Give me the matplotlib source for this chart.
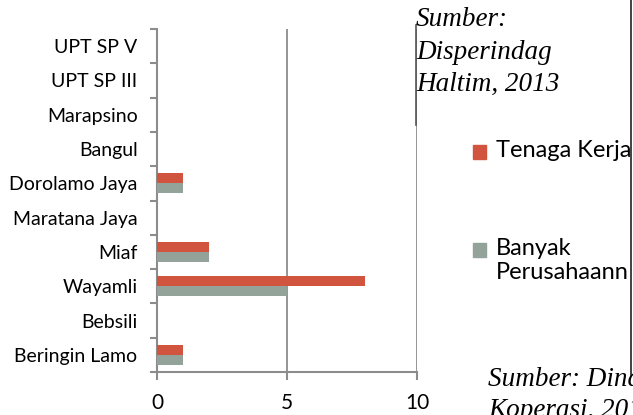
import numpy as np
import matplotlib.pyplot as plt
from matplotlib.patches import Rectangle

# data, bottom to top as drawn
categories = ["Beringin Lamo", "Bebsili", "Wayamli", "Miaf", "Maratana Jaya",
              "Dorolamo Jaya", "Bangul", "Marapsino", "UPT SP III", "UPT SP V"]
tenaga_kerja = [1, 0, 8, 2, 0, 1, 0, 0, 0, 0]
banyak_perusahaan = [1, 0, 5, 2, 0, 1, 0, 0, 0, 0]
series_names = ["Tenaga Kerja", "Banyak\nPerusahaann"]
x_ticks = [0, 5, 10]

red = "#D1543F"
grey = "#94A39A"
axis_grey = "#8C8C8C"

W, H = 633, 415
fig = plt.figure(figsize=(W / 100, H / 100), dpi=100)
ax = fig.add_axes([157 / W, 1 - 372 / H, 260 / W, 343 / H])

y = np.arange(len(categories))
h = 0.29
ax.barh(y + h / 2, tenaga_kerja, height=h, color=red, zorder=3)
ax.barh(y - h / 2, banyak_perusahaan, height=h, color=grey, zorder=3)

ax.set_xlim(0, 10)
ax.set_ylim(-0.5, len(categories) - 0.5)
ax.set_xticks(x_ticks)
ax.set_xticklabels([str(t) for t in x_ticks], fontsize=15, family="Lato")
ax.set_yticks(y)
ax.set_yticklabels(categories, fontsize=14, family="Lato")
ax.set_yticks(np.arange(len(categories) + 1) - 0.5, minor=True)
ax.tick_params(axis="y", which="major", length=0, pad=14)
ax.tick_params(axis="y", which="minor", length=5, color=axis_grey, width=1.5)
ax.tick_params(axis="x", length=6, color=axis_grey, width=1.5, pad=9)
ax.xaxis.grid(True, color=axis_grey, linewidth=1.3, zorder=0)

for side in ["top", "right"]:
    ax.spines[side].set_visible(False)
for side in ["left", "bottom"]:
    ax.spines[side].set_color(axis_grey)
    ax.spines[side].set_linewidth(1.5)

# legend drawn by hand (it runs off the right edge in the original)
legend_y = [152, 250]
for name, col, ly in zip(series_names, [red, grey], legend_y):
    fig.patches.append(Rectangle((473 / W, 1 - (ly + 7) / H), 13 / W, 14 / H,
                                 transform=fig.transFigure, color=col))
    fig.text(496 / W, 1 - (ly - 12) / H, name, family="Lato", fontsize=17,
             va="top", ha="left", linespacing=1.2)

# source notes pasted over the chart
fig.text(416 / W, 1 - 7 / H, "Sumber:\nDisperindag\nHaltim, 2013",
         family="Liberation Serif", style="italic", fontsize=19.5,
         va="top", ha="left", linespacing=1.4)
fig.text(488 / W, 1 - 367 / H, "Sumber: Dinas\nKoperasi, 2013",
         family="Liberation Serif", style="italic", fontsize=19.5,
         va="top", ha="left", linespacing=1.3)
fig.add_artist(plt.Line2D([416 / W, 416 / W], [1 - 25 / H, 1 - 125 / H],
                          color="#555555", linewidth=1.2))
fig.add_artist(plt.Line2D([631 / W, 631 / W], [1.0, 1 - 375 / H],
                          color="#222222", linewidth=1.2))

fig.savefig("out.png", dpi=100)
